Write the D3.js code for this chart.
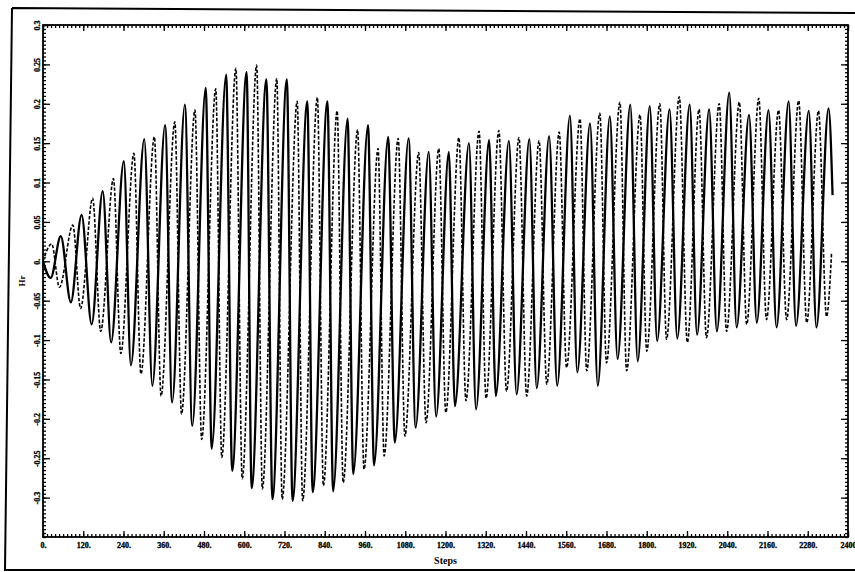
<!DOCTYPE html>
<html>
<head>
<meta charset="utf-8">
<script src="https://cdn.jsdelivr.net/npm/d3@7"></script>
<style>
  body { margin: 0; background: #fff; }
  svg { display: block; }
</style>
</head>
<body>
<div id="chart"></div>
<script>
// extrema (step, Hr)
var solidSteps = [0,23,53,83,115,145,178,203,241,262,302,326,364,385,423,445,485,503,546,564,607,622,666,684,727,744,788,804,848,865,908,925,969,987,1029,1049,1090,1111,1150,1172,1210,1228,1270,1291,1330,1350,1389,1412,1450,1472,1509,1533,1571,1593,1631,1654,1690,1713,1751,1773,1809,1831,1868,1891,1928,1950,1986,2009,2046,2068,2105,2128,2163,2187,2223,2245,2283,2306,2342,2354];
var solidHr = [0,-0.021,0.032,-0.052,0.059,-0.080,0.089,-0.103,0.127,-0.132,0.155,-0.158,0.173,-0.179,0.199,-0.209,0.220,-0.238,0.237,-0.266,0.240,-0.288,0.231,-0.302,0.231,-0.304,0.203,-0.293,0.203,-0.292,0.181,-0.270,0.173,-0.259,0.158,-0.230,0.156,-0.211,0.139,-0.197,0.139,-0.184,0.150,-0.188,0.154,-0.171,0.153,-0.169,0.155,-0.161,0.159,-0.158,0.185,-0.141,0.175,-0.158,0.184,-0.124,0.199,-0.127,0.197,-0.101,0.193,-0.098,0.199,-0.093,0.193,-0.089,0.214,-0.084,0.186,-0.078,0.192,-0.084,0.203,-0.082,0.191,-0.084,0.194,0.084];

var dashedSteps = [0,26,49,89,112,148,172,210,232,271,292,332,352,393,413,453,473,515,533,575,594,637,654,697,713,758,774,818,836,877,895,938,957,999,1017,1059,1079,1120,1142,1180,1201,1240,1261,1300,1321,1359,1382,1419,1442,1479,1502,1539,1561,1601,1621,1660,1680,1720,1740,1780,1800,1839,1859,1897,1921,1956,1978,2016,2038,2076,2098,2134,2157,2193,2217,2253,2277,2312,2336,2351];
var dashedHr = [0,0.022,-0.033,0.046,-0.060,0.080,-0.089,0.105,-0.117,0.137,-0.143,0.158,-0.171,0.177,-0.194,0.192,-0.226,0.219,-0.249,0.245,-0.276,0.249,-0.289,0.232,-0.302,0.203,-0.304,0.208,-0.285,0.191,-0.281,0.167,-0.264,0.143,-0.247,0.156,-0.222,0.138,-0.205,0.143,-0.192,0.157,-0.177,0.165,-0.174,0.166,-0.165,0.157,-0.171,0.153,-0.156,0.164,-0.135,0.181,-0.139,0.188,-0.129,0.202,-0.139,0.186,-0.114,0.200,-0.099,0.209,-0.103,0.193,-0.097,0.200,-0.089,0.202,-0.080,0.207,-0.074,0.192,-0.074,0.204,-0.078,0.191,-0.070,0.011];

var xTicks = [0,120,240,360,480,600,720,840,960,1080,1200,1320,1440,1560,1680,1800,1920,2040,2160,2280,2400];
var xTickLabels = ["0.","120.","240.","360.","480.","600.","720.","840.","960.","1080.","1200.","1320.","1440.","1560.","1680.","1800.","1920.","2040.","2160.","2280.","2400"];
var yTicks = [-0.3,-0.25,-0.2,-0.15,-0.1,-0.05,0,0.05,0.1,0.15,0.2,0.25,0.3];
var yTickLabels = ["-0.3","-0.25","-0.2","-0.15","-0.1","-0.05","0.","0.05","0.1","0.15","0.2","0.25","0.3"];

(() => {
  var W = 855, H = 572;
  var pl = 43, pr = 848, pt = 25, pb = 537;
  var font = "'Liberation Serif', 'Times New Roman', serif";

  var svg = d3.select("#chart").append("svg")
      .attr("width", W)
      .attr("height", H);

  // scanned page border
  svg.append("path")
      .attr("d", "M12,8 L860,13 M12,8 L5,570 L860,570")
      .attr("fill", "none")
      .attr("stroke", "#000")
      .attr("stroke-width", 2);

  var x = d3.scaleLinear().domain([0, 2400]).range([pl, pr]);
  var y = d3.scaleLinear().domain([-0.35, 0.3]).range([pb, pt]);

  var minorX = d3.range(0, 2401, 12);
  var minorY = d3.range(-70, 61).map((d) => d * 0.005);

  // minor ticks, all four sides, pointing inward
  svg.append("g").attr("transform", `translate(0,${ pb })`)
      .call(d3.axisBottom(x).tickValues(minorX).tickSize(-3).tickSizeOuter(0).tickFormat(""));
  svg.append("g").attr("transform", `translate(0,${ pt })`)
      .call(d3.axisTop(x).tickValues(minorX).tickSize(-3).tickSizeOuter(0).tickFormat(""));
  svg.append("g").attr("transform", `translate(${ pl },0)`)
      .call(d3.axisLeft(y).tickValues(minorY).tickSize(-3).tickSizeOuter(0).tickFormat(""));
  svg.append("g").attr("transform", `translate(${ pr },0)`)
      .call(d3.axisRight(y).tickValues(minorY).tickSize(-3).tickSizeOuter(0).tickFormat(""));

  // major ticks + labels
  var xAxis = svg.append("g").attr("transform", `translate(0,${ pb })`)
      .call(d3.axisBottom(x).tickValues(xTicks).tickSize(-6).tickSizeOuter(0).tickPadding(5)
        .tickFormat((d, i) => xTickLabels[i]));
  svg.append("g").attr("transform", `translate(0,${ pt })`)
      .call(d3.axisTop(x).tickValues(xTicks).tickSize(-6).tickSizeOuter(0).tickFormat(""));

  var yAxis = svg.append("g").attr("transform", `translate(${ pl },0)`)
      .call(d3.axisLeft(y).tickValues(yTicks).tickSize(-7).tickSizeOuter(0)
        .tickFormat((d, i) => yTickLabels[i]));
  svg.append("g").attr("transform", `translate(${ pr },0)`)
      .call(d3.axisRight(y).tickValues(yTicks).tickSize(-7).tickSizeOuter(0).tickFormat(""));

  svg.selectAll(".tick line").attr("stroke", "#000").attr("stroke-width", 1.3);
  svg.selectAll(".domain").attr("stroke", "none");

  xAxis.selectAll("text")
      .attr("font-family", font)
      .attr("font-weight", "bold")
      .attr("font-size", 8)
      .attr("fill", "#000")
      .attr("stroke", "#000")
      .attr("stroke-width", 0.3);

  yAxis.selectAll("text")
      .attr("font-family", font)
      .attr("font-weight", "bold")
      .attr("font-size", 8)
      .attr("fill", "#000")
      .attr("stroke", "#000")
      .attr("stroke-width", 0.3)
      .attr("x", 0)
      .attr("dy", 0)
      .attr("text-anchor", "middle")
      .attr("transform", "translate(-3,0) rotate(-90)");

  // plot frame
  svg.append("rect")
      .attr("x", pl).attr("y", pt)
      .attr("width", pr - pl).attr("height", pb - pt)
      .attr("fill", "none")
      .attr("stroke", "#000")
      .attr("stroke-width", 1.8);

  var line = d3.line()
      .x((d) => x(d[0]))
      .y((d) => y(d[1]))
      .curve(d3.curveMonotoneX);

  svg.append("path")
      .datum(dashedSteps.map((s, i) => [s, dashedHr[i]]))
      .attr("d", line)
      .attr("fill", "none")
      .attr("stroke", "#000")
      .attr("stroke-width", 1.6)
      .attr("stroke-dasharray", "3.5,1.8");

  svg.append("path")
      .datum(solidSteps.map((s, i) => [s, solidHr[i]]))
      .attr("d", line)
      .attr("fill", "none")
      .attr("stroke", "#000")
      .attr("stroke-width", 2.3);

  // axis titles
  svg.append("text")
      .attr("x", (pl + pr) / 2)
      .attr("y", 564)
      .attr("text-anchor", "middle")
      .attr("font-family", font)
      .attr("font-weight", "bold")
      .attr("font-size", 10)
      .text("Steps");

  svg.append("text")
      .attr("transform", "translate(25,281) rotate(-90)")
      .attr("text-anchor", "middle")
      .attr("font-family", font)
      .attr("font-weight", "bold")
      .attr("font-size", 9)
      .text("Hr");
})();
</script>
</body>
</html>
